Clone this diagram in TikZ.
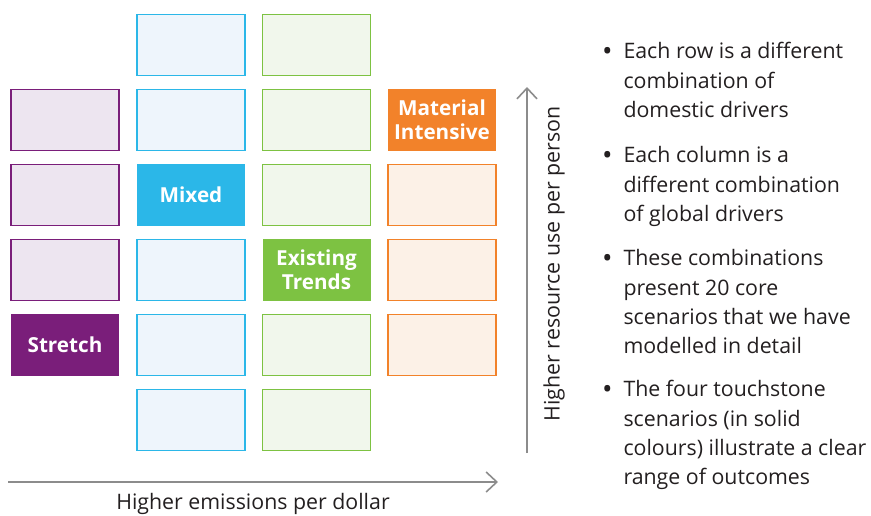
\documentclass[tikz,border=0pt]{standalone}
\usepackage{fontspec}
\setmainfont{Open Sans}
\usetikzlibrary{arrows.meta}

\definecolor{purpledark}{RGB}{122,30,122}
\definecolor{purplelight}{RGB}{237,229,240}
\definecolor{bluedark}{RGB}{43,183,232}
\definecolor{bluelight}{RGB}{238,245,252}
\definecolor{greendark}{RGB}{125,194,66}
\definecolor{greenlight}{RGB}{241,247,236}
\definecolor{orangedark}{RGB}{242,130,42}
\definecolor{orangelight}{RGB}{252,241,231}
\definecolor{axisgray}{RGB}{140,140,140}
\definecolor{textdark}{RGB}{35,31,32}

\tikzset{every picture/.style={line width=0.75pt}}
\tikzset{
  cell/.style={minimum width=81pt, minimum height=46pt, inner sep=0pt, line width=1.2pt},
  purplecell/.style={cell, draw=purpledark, fill=purplelight},
  bluecell/.style={cell, draw=bluedark, fill=bluelight},
  greencell/.style={cell, draw=greendark, fill=greenlight},
  orangecell/.style={cell, draw=orangedark, fill=orangelight},
  solidcell/.style={cell, text=white, align=center, font=\fontsize{15.5}{18}\selectfont\bfseries},
  axisline/.style={draw=axisgray, line width=1.5pt, -{Straight Barb[length=8pt,width=15pt,line width=1.2pt]}},
  axislabel/.style={text=textdark, inner sep=0pt, font=\fontsize{16}{18}\selectfont},
  bulletnote/.style={text=textdark, inner sep=0pt, anchor=north west, align=left, font=\fontsize{16}{22}\selectfont}
}
\newcommand{\bul}{\llap{\textbf{\textbullet}\hspace{9pt}}}

\begin{document}
\begin{tikzpicture}[x=0.75pt,y=0.75pt,yscale=-1,xscale=1]
\path[use as bounding box] (0,0) rectangle (871,515);

%Shape: Rectangle (first column)
\node [purplecell] (pur1) at (65,120) {};
\node [purplecell] (pur2) at (65,195) {};
\node [purplecell] (pur3) at (65,270) {};
\node [solidcell, fill=purpledark] (stretch) at (65,345) {Stretch};

%Shape: Rectangle (second column)
\node [bluecell] (blu1) at (191,45) {};
\node [bluecell] (blu2) at (191,120) {};
\node [solidcell, fill=bluedark] (mixed) at (191,195) {Mixed};
\node [bluecell] (blu3) at (191,270) {};
\node [bluecell] (blu4) at (191,345) {};
\node [bluecell] (blu5) at (191,420) {};

%Shape: Rectangle (third column)
\node [greencell] (grn1) at (316.5,45) {};
\node [greencell] (grn2) at (316.5,120) {};
\node [greencell] (grn3) at (316.5,195) {};
\node [solidcell, fill=greendark] (trends) at (316.5,270) {Existing\\Trends};
\node [greencell] (grn4) at (316.5,345) {};
\node [greencell] (grn5) at (316.5,420) {};

%Shape: Rectangle (fourth column)
\node [solidcell, fill=orangedark] (material) at (442,120) {Material\\Intensive};
\node [orangecell] (org1) at (442,195) {};
\node [orangecell] (org2) at (442,270) {};
\node [orangecell] (org3) at (442,345) {};

%Straight Lines (axes)
\coordinate (xstart) at (8,482);
\coordinate (xend) at (498,482);
\coordinate (ystart) at (527,453);
\coordinate (yend) at (527,87);
\draw [axisline] (xstart) -- (xend);
\draw [axisline] (ystart) -- (yend);

% Text Node
\node [axislabel] (xlabel) at (253,504) {Higher emissions per dollar};
% Text Node
\node [axislabel, rotate=90] (ylabel) at (554,264) {Higher resource use per person};

% Text Node
\node [bulletnote] (note1) at (623,42) {\bul Each row is a different\\combination of\\domestic drivers};
% Text Node
\node [bulletnote] (note2) at (623,146) {\bul Each column is a\\different combination\\of global drivers};
% Text Node
\node [bulletnote] (note3) at (623,249) {\bul These combinations\\present 20 core\\scenarios that we have\\modelled in detail};
% Text Node
\node [bulletnote] (note4) at (623,380) {\bul The four touchstone\\scenarios (in solid\\colours) illustrate a clear\\range of outcomes};

\end{tikzpicture}
\end{document}
